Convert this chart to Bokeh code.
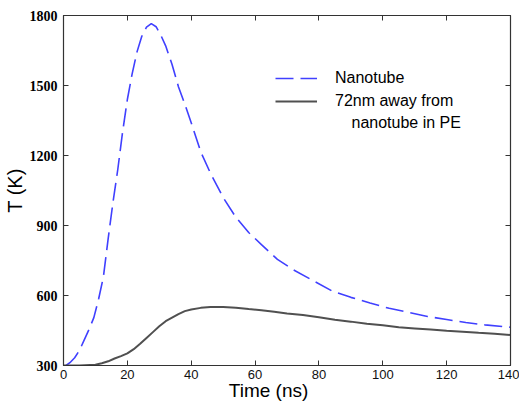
from bokeh.plotting import figure
from bokeh.models import Range1d, LinearAxis, Legend, LegendItem, Label
from bokeh.embed import file_html
from bokeh.resources import INLINE

# ---- data ----
time_nanotube = [0.8, 2, 3.5, 5, 6.5, 8, 9.5, 11, 12.5, 14, 15.5, 17, 18.5, 20, 21.5,
                 23, 24.5, 26, 27.5, 29, 30.5, 32, 34, 36, 38, 40, 43, 46, 50, 54,
                 58, 62, 67, 72, 78, 84, 90, 96, 102, 108, 114, 120, 126, 132, 140]
temp_nanotube = [300, 312, 333, 365, 410, 455, 505, 585, 680, 845, 1000, 1140, 1300, 1440, 1550,
                 1643, 1710, 1750, 1765, 1752, 1715, 1670, 1590, 1495, 1420, 1340, 1215, 1125, 1020, 935,
                 870, 818, 755, 710, 665, 620, 592, 568, 545, 528, 510, 497, 484, 474, 464]

time_pe = [0, 5, 10, 12, 14, 16, 18, 20, 22, 24, 26, 28, 30, 32, 34, 36, 38, 40, 43, 46,
           50, 54, 58, 62, 66, 70, 75, 80, 85, 90, 95, 100, 105, 110, 115, 120, 125, 130, 135, 140]
temp_pe = [300, 300, 303, 310, 318, 330, 340, 352, 370, 393, 418, 443, 468, 490, 505, 520, 533, 540, 547, 551,
           551, 548, 542, 537, 530, 523, 516, 507, 496, 488, 479, 472, 464, 459, 454, 449, 445, 440, 436, 431]

x_ticks = [0, 20, 40, 60, 80, 100, 120, 140]
y_ticks = [300, 600, 900, 1200, 1500, 1800]

label_nanotube = "Nanotube"
label_pe_1 = "72nm away from"
label_pe_2 = "nanotube in PE"
x_title = "Time (ns)"
y_title = "T (K)"

BLUE = "#4040ff"
GRAY = "#505050"
AXIS = "#333333"

p = figure(width=519, height=403, output_backend="svg", toolbar_location=None,
           x_range=Range1d(0, 140), y_range=Range1d(300, 1800),
           min_border_left=63, min_border_right=9, min_border_top=15, min_border_bottom=36)
p.background_fill_color = "white"
p.border_fill_color = "white"
p.outline_line_color = AXIS
p.xgrid.visible = False
p.ygrid.visible = False

r_nt = p.line(time_nanotube, temp_nanotube, line_color=BLUE, line_width=1.6, line_dash="18 7")
r_pe = p.line(time_pe, temp_pe, line_color=GRAY, line_width=2)

p.add_layout(LinearAxis(), "right")
p.add_layout(LinearAxis(), "above")

for ax in p.xaxis:
    ax.ticker = x_ticks
for ax in p.yaxis:
    ax.ticker = y_ticks

for ax in p.xaxis + p.yaxis:
    ax.major_tick_in = 5
    ax.major_tick_out = 0
    ax.minor_tick_line_color = None
    ax.axis_line_color = AXIS
    ax.major_tick_line_color = AXIS
    ax.axis_line_width = 1.2

# visible tick labels and titles
bx = p.below[0]
bx.major_label_text_font = "Liberation Sans"
bx.major_label_text_font_size = "13px"
bx.major_label_text_color = "#111111"
bx.major_label_standoff = 4
bx.axis_label = x_title + "\u00a0" * 7
bx.axis_label_text_font = "Liberation Sans"
bx.axis_label_text_font_size = "19px"
bx.axis_label_text_font_style = "normal"
bx.axis_label_text_color = "black"
bx.axis_label_standoff = -2

ly = p.left[0]
ly.major_label_text_font = "Liberation Serif"
ly.major_label_text_font_style = "bold"
ly.major_label_text_font_size = "14px"
ly.major_label_text_color = "black"
ly.major_label_standoff = 6
ly.axis_label = y_title
ly.axis_label_text_font = "Liberation Sans"
ly.axis_label_text_font_size = "20px"
ly.axis_label_text_font_style = "normal"
ly.axis_label_text_color = "black"
ly.axis_label_standoff = 1

# hidden labels on mirrored axes
for ax, ticks in ((p.right[0], y_ticks), (p.above[0], x_ticks)):
    ax.major_label_overrides = {t: "" for t in ticks}
    ax.major_label_text_font_size = "0px"
    ax.major_label_standoff = 0

# legend
legend = Legend(items=[LegendItem(label=label_nanotube, renderers=[r_nt]),
                       LegendItem(label=label_pe_1, renderers=[r_pe])],
                location=(212, 254), glyph_width=42, glyph_height=20,
                label_standoff=18, spacing=3, padding=0, margin=0,
                label_text_font="Liberation Sans", label_text_font_size="16px",
                label_text_color="black", label_height=20,
                border_line_alpha=0, background_fill_alpha=0)
p.add_layout(legend, "center")

p.add_layout(Label(x=90.2, y=1342, text=label_pe_2, text_font="Liberation Sans",
                   text_font_size="16px", text_color="black", text_baseline="alphabetic"))

open("out.html", "w").write(file_html(p, INLINE))
